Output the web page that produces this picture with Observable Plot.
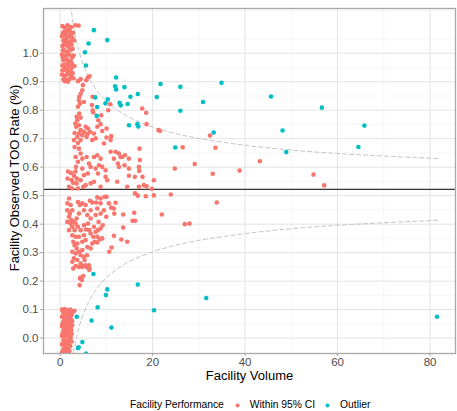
<!DOCTYPE html>
<html><head><meta charset="utf-8">
<script src="https://cdn.jsdelivr.net/npm/d3@7"></script>
<script src="https://cdn.jsdelivr.net/npm/@observablehq/plot@0.6"></script>
<style>
body{margin:0;background:#fff;font-family:"Liberation Sans",Arial,sans-serif;}
#wrap{position:relative;width:457px;height:411px;overflow:hidden;}
#legend{position:absolute;left:130px;top:399px;display:flex;align-items:center;height:12px;line-height:12px;font-size:10.3px;color:#000;white-space:nowrap;}
#legend .key{display:inline-block;width:17px;height:12px;}
#legend svg{display:block;}
</style></head><body>
<div id="wrap">
<div id="chart"></div>
<div id="legend"></div>
</div>
<script>
// [facility volume, observed rate]
const withinCI = [
// small-volume high cluster
[0.5,1.095],[1.0,1.09],[1.6,1.098],[2.4,1.092],[3.3,1.098],[4.0,1.097],[0.8,1.075],[1.5,1.08],[2.1,1.078],[2.8,1.072],
[0.4,1.06],[1.2,1.062],[1.9,1.058],[2.6,1.055],[0.7,1.045],[1.4,1.04],[2.2,1.042],[0.5,1.025],[1.1,1.028],[1.8,1.022],
[2.5,1.03],[0.9,1.01],[1.6,1.005],[2.3,1.012],[0.4,0.995],[1.2,0.99],[2.0,0.995],[2.9,0.992],[0.7,0.975],[1.5,0.978],
[2.3,0.972],[0.5,0.958],[1.1,0.96],[1.9,0.955],[2.6,0.962],[0.8,0.94],[1.5,0.945],[2.2,0.938],[0.4,0.925],[1.2,0.922],
[1.9,0.928],[2.7,0.93],[0.7,0.908],[1.4,0.905],[2.1,0.91],[2.9,0.912],[1.0,0.902],[1.7,0.9],[0.6,1.07],[2.0,1.085],
[1.3,1.05],[0.9,1.035],[2.7,1.015],[1.4,0.998],[0.6,0.985],[2.6,0.985],[1.8,0.968],[0.9,0.95],[2.5,0.948],[1.6,0.932],
[0.5,0.94],[2.4,0.918],[3.1,0.955],[3.0,1.045],[1.0,0.918],[2.0,0.965],[0.6,1.01],[1.3,1.068],[2.2,1.065],[1.7,1.035],
// small-volume low cluster
[0.4,0.1],[1.0,0.102],[1.6,0.098],[2.2,0.1],[3.1,0.096],[0.7,0.088],[1.3,0.085],[1.9,0.09],[2.5,0.082],[0.4,0.075],
[1.0,0.072],[1.6,0.07],[2.3,0.068],[0.7,0.058],[1.3,0.055],[2.0,0.052],[2.6,0.06],[0.4,0.042],[1.0,0.04],[1.7,0.038],
[2.3,0.035],[0.7,0.025],[1.3,0.022],[2.0,0.02],[0.4,0.008],[1.0,0.005],[1.6,0.01],[2.3,0.002],[0.7,-0.008],[1.3,-0.01],
[1.9,-0.005],[0.4,-0.022],[1.0,-0.025],[1.6,-0.02],[2.2,-0.028],[0.7,-0.038],[1.3,-0.035],[1.8,-0.04],[0.4,-0.05],[1.0,-0.052],
[1.5,-0.048],[0.6,0.095],[1.9,0.065],[2.6,0.045],[1.4,0.03],[2.5,0.015],[0.5,0.015],[1.8,-0.015],[2.1,0.078],[0.9,0.063],
[1.5,0.048],[0.8,-0.045],[2.0,-0.045],[1.2,0.092],[2.7,0.092],[0.5,0.05],[1.1,0.015],[0.8,0.032],[1.4,0.008],[2.5,-0.012],
[0.9,-0.018],[2.4,0.027],
// main body above the mean
[3.85,0.902],[4.43,0.909],[6.01,0.915],[6.37,0.919],[5.65,0.905],[4.93,0.888],[4.79,0.870],[4.43,0.858],[4.14,0.847],[7.0,0.847],
[4.07,0.835],[4.28,0.823],[3.85,0.812],[5.15,0.829],[6.88,0.818],[7.02,0.800],[7.16,0.792],[10.84,0.821],[10.4,0.800],[8.89,0.782],
[8.24,0.765],[4.14,0.788],[3.56,0.777],[4.43,0.774],[3.71,0.765],[3.28,0.753],[4.07,0.747],[3.49,0.742],[4.43,0.730],[3.13,0.720],
[4.07,0.718],[3.71,0.706],[4.79,0.712],[2.99,0.695],[3.85,0.685],[4.43,0.695],[5.51,0.742],[6.01,0.736],[5.15,0.724],[5.87,0.716],
[6.44,0.724],[5.72,0.706],[6.95,0.695],[7.67,0.701],[7.31,0.718],[8.03,0.742],[8.75,0.751],[9.11,0.727],[10.04,0.736],[10.04,0.704],
[11.05,0.709],[10.91,0.695],[9.47,0.683],[3.13,0.671],[4.07,0.665],[4.43,0.648],[3.35,0.636],[4.79,0.630],[3.85,0.619],[3.42,0.601],
[4.79,0.595],[5.72,0.636],[6.23,0.613],[6.59,0.601],[6.01,0.578],[5.15,0.572],[7.31,0.636],[8.03,0.642],[8.75,0.630],[8.39,0.607],
[7.67,0.595],[8.17,0.578],[9.11,0.601],[9.83,0.589],[10.91,0.654],[11.99,0.654],[12.71,0.648],[13.07,0.636],[11.63,0.630],[12.49,0.613],
[12.71,0.601],[13.43,0.636],[14.0,0.642],[13.93,0.607],[14.87,0.630],[14.87,0.595],[14.87,0.570],[16.16,0.566],[17.17,0.665],[17.24,0.625],
[17.03,0.601],[17.82,0.566],[18.68,0.533],[17.03,0.531],[19.83,0.524],[20.27,0.554],[12.35,0.549],[10.19,0.554],[9.83,0.566],[8.75,0.531],
[7.31,0.549],[6.59,0.543],[5.51,0.537],[4.43,0.554],[3.56,0.543],[2.63,0.525],[1.91,0.531],[3.85,0.525],[5.0,0.531],[14.51,0.531],
[18.11,0.537],[17.75,0.806],[18.6,0.791],[18.68,0.751],[21.3,0.730],[21.6,0.727],[26.5,0.670],[24.8,0.595],[29.1,0.611],[32.4,0.711],
[33.6,0.668],[33.0,0.577],[17.1,0.587],[1.7,0.585],[2.3,0.58],[1.6,0.56],[2.5,0.555],[3.0,0.57],[3.3,0.585],[2.8,0.545],[3.6,0.56],
[38.8,0.588],[43.2,0.621],[54.8,0.574],[57.1,0.536],
// main body below the mean
[1.55,0.473],[1.91,0.490],[2.27,0.467],[1.55,0.449],[2.12,0.437],[2.63,0.449],[1.91,0.426],[2.41,0.414],[1.55,0.408],[2.99,0.408],
[2.27,0.402],[3.35,0.402],[2.63,0.391],[3.13,0.379],[1.91,0.379],[2.63,0.361],[3.35,0.356],[2.84,0.338],[3.13,0.326],[3.71,0.332],
[3.56,0.315],[2.63,0.303],[3.35,0.297],[4.07,0.303],[4.43,0.291],[2.99,0.280],[3.71,0.274],[2.63,0.268],[3.35,0.253],[2.84,0.244],
[4.07,0.250],[4.79,0.250],[5.51,0.256],[6.01,0.248],[6.3,0.239],[4.43,0.213],[5.0,0.218],[4.28,0.209],[4.72,0.204],[4.21,0.186],
[3.85,0.478],[4.28,0.467],[4.79,0.473],[5.51,0.467],[6.44,0.482],[6.95,0.476],[7.81,0.476],[8.03,0.494],[8.75,0.490],[8.75,0.473],
[9.61,0.496],[10.04,0.496],[11.05,0.458],[11.63,0.455],[11.7,0.437],[11.99,0.475],[9.97,0.426],[6.01,0.402],[7.31,0.391],[8.31,0.408],
[9.18,0.396],[8.75,0.385],[8.17,0.379],[6.3,0.379],[5.58,0.381],[5.15,0.361],[6.59,0.367],[7.16,0.356],[8.03,0.356],[8.6,0.347],
[9.11,0.350],[7.45,0.338],[6.95,0.332],[8.03,0.336],[6.59,0.315],[5.8,0.291],[5.15,0.285],[6.23,0.256],[5.72,0.250],[6.37,0.244],
[4.86,0.253],[10.62,0.303],[11.12,0.318],[11.63,0.359],[13.21,0.346],[14.51,0.338],[13.64,0.434],[13.64,0.388],[16.02,0.440],[15.66,0.412],
[16.23,0.412],[18.54,0.498],[20.27,0.501],[21.99,0.434],[23.93,0.504],[26.96,0.400],[27.97,0.402],[33.87,0.476],[4.43,0.262],[5.29,0.274],
[4.79,0.309],[5.87,0.320],[7.67,0.373],[5.51,0.344],[4.79,0.338],[4.07,0.356],[5.15,0.396],[4.43,0.379],[3.85,0.391],[5.87,0.432],
[6.59,0.420],[7.67,0.432],[8.75,0.437],[9.47,0.449],[10.55,0.473],[8.03,0.455],[6.59,0.449],[4.07,0.437],[5.15,0.449],[3.56,0.420],
[16.2,0.508],[16.8,0.5]
];
const outliers = [
[7.3,1.081],[6.15,1.034],[10.2,1.046],[5.36,1.003],[5.58,0.957],[12.1,0.915],[11.9,0.884],[12.1,0.873],[13.9,0.881],[21.7,0.892],
[26.0,0.882],[34.9,0.896],[7.6,0.845],[10.3,0.838],[9.8,0.824],[8.0,0.811],[7.9,0.780],[12.85,0.826],[13.1,0.817],[14.6,0.822],
[15.2,0.847],[16.8,0.857],[20.9,0.846],[26.0,0.798],[30.9,0.829],[14.9,0.747],[16.7,0.751],[16.9,0.743],[33.2,0.722],[24.9,0.669],
[45.6,0.848],[56.6,0.809],[48.1,0.729],[65.8,0.746],[48.9,0.653],[64.5,0.671],
[7.2,0.225],[16.8,0.188],[10.2,0.171],[9.9,0.151],[8.1,0.108],[3.6,0.075],[6.8,0.062],[20.3,0.098],[31.6,0.141],[11.1,0.037],
[4.8,-0.014],[3.85,-0.035],[4.0,-0.032],[5.6,-0.054],[81.5,0.075]
];
const meanRate = 0.522;
const limitVolume = [2.3,2.6,3,3.5,4,5,6,7,8,10,12,15,20,25,30,40,50,60,70,82];
const upperLimit = [1.168,1.129,1.087,1.045,1.012,0.960,0.922,0.892,0.868,0.832,0.805,0.775,0.741,0.718,0.701,0.677,0.660,0.648,0.639,0.630];
const lowerLimit = [-0.124,-0.085,-0.043,-0.001,0.033,0.084,0.122,0.152,0.176,0.212,0.239,0.269,0.303,0.326,0.343,0.367,0.384,0.396,0.405,0.414];
const xTicks = [0,20,40,60,80];
const yTicks = [0,0.1,0.2,0.3,0.4,0.5,0.6,0.7,0.8,0.9,1.0];
const xMinor = [10,30,50,70];
const yMinor = [0.05,0.15,0.25,0.35,0.45,0.55,0.65,0.75,0.85,0.95,1.05,1.15];
const groups = ["Within 95% CI","Outlier"];
const groupColors = ["#F8766D","#00BFC4"];

const funnel = limitVolume.map((n,i)=>({n, upper:upperLimit[i], lower:lowerLimit[i]}));
const toRows = arr => arr.map(([v,r])=>({volume:v, rate:r}));

const chart = Plot.plot({
  width:457, height:396,
  marginLeft:43, marginTop:8, marginRight:2, marginBottom:43,
  style:{fontFamily:"'Liberation Sans', Arial, sans-serif", fontSize:"12px", background:"#fff"},
  x:{domain:[-3.6,85.5]},
  y:{domain:[-0.054,1.157]},
  marks:[
    Plot.gridX(xMinor,{stroke:"#ededed", strokeOpacity:1, strokeWidth:0.5}),
    Plot.gridY(yMinor,{stroke:"#ededed", strokeOpacity:1, strokeWidth:0.5}),
    Plot.gridX(xTicks,{stroke:"#e0e0e0", strokeOpacity:1, strokeWidth:0.9}),
    Plot.gridY(yTicks,{stroke:"#e0e0e0", strokeOpacity:1, strokeWidth:0.9}),
    Plot.line(funnel,{x:"n", y:"upper", stroke:"#c2c2c2", strokeWidth:1, strokeDasharray:"4,3", curve:"catmull-rom", clip:true}),
    Plot.line(funnel,{x:"n", y:"lower", stroke:"#c2c2c2", strokeWidth:1, strokeDasharray:"4,3", curve:"catmull-rom", clip:true}),
    Plot.ruleY([meanRate],{stroke:"#333", strokeWidth:1.3}),
    Plot.dot(toRows(withinCI),{x:"volume", y:"rate", r:2.3, fill:groupColors[0], clip:true}),
    Plot.dot(toRows(outliers),{x:"volume", y:"rate", r:2.3, fill:groupColors[1], clip:true}),
    Plot.frame({stroke:"#a8a8a8", strokeWidth:1.3}),
    Plot.axisX(xTicks,{tickSize:3, tickPadding:1, stroke:"#a8a8a8", fill:"#4d4d4d", fontSize:11.5, label:null}),
    Plot.axisY(yTicks,{tickSize:3, tickPadding:2, stroke:"#a8a8a8", fill:"#4d4d4d", fontSize:11.5, label:null, tickFormat:d=>d.toFixed(1)}),
    Plot.text(["Facility Volume"],{frameAnchor:"bottom", dy:26.5, fontSize:13, fill:"#000", textAnchor:"middle"}),
    Plot.text(["Facility Observed TOO Rate (%)"],{frameAnchor:"left", dx:-29, dy:-3, rotate:-90, fontSize:13, fill:"#000", textAnchor:"middle"})
  ]
});
document.getElementById("chart").appendChild(chart);

const lg = document.getElementById("legend");
const title = document.createElement("span");
title.textContent = "Facility Performance";
title.style.marginRight = "5px";
lg.appendChild(title);
groups.forEach((g,i)=>{
  const key = document.createElement("span");
  key.className = "key";
  key.innerHTML = `<svg width="17" height="12"><circle cx="8.5" cy="6.5" r="2" fill="${groupColors[i]}"/></svg>`;
  lg.appendChild(key);
  const t = document.createElement("span");
  t.textContent = g;
  t.style.marginLeft = "4px";
  t.style.marginRight = i === 0 ? "4px" : "0";
  lg.appendChild(t);
});
</script>
</body></html>
